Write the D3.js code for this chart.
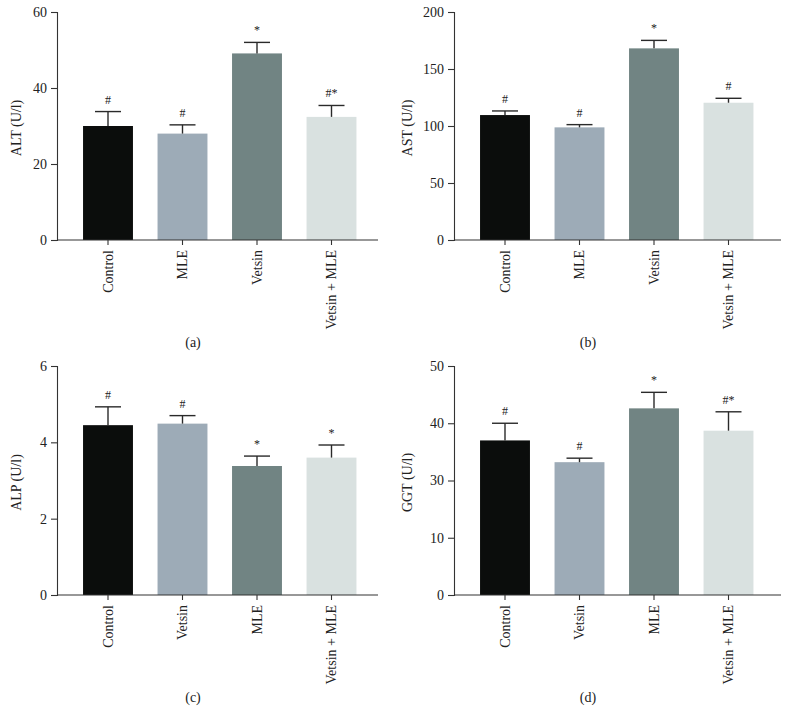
<!DOCTYPE html>
<html><head><meta charset="utf-8">
<script src="https://cdn.jsdelivr.net/npm/d3@7"></script>
<style>body{margin:0;background:#fff;} svg{display:block;}</style>
</head><body>
<script>
// ---- data ----
const abGroups = ["Control", "MLE", "Vetsin", "Vetsin + MLE"];
const cdGroups = ["Control", "Vetsin", "MLE", "Vetsin + MLE"];

const altMeans = [30.0, 28.0, 49.1, 32.4];
const altErrs  = [3.8, 2.3, 2.9, 3.0];
const altMarks = ["#", "#", "*", "#*"];
const altTicks = [0, 20, 40, 60];

const astMeans = [109.6, 98.8, 168.1, 120.4];
const astErrs  = [3.6, 2.4, 7.0, 3.9];
const astMarks = ["#", "#", "*", "#"];
const astTicks = [0, 50, 100, 150, 200];

const alpMeans = [4.45, 4.49, 3.38, 3.60];
const alpErrs  = [0.48, 0.21, 0.26, 0.33];
const alpMarks = ["#", "#", "*", "*"];
const alpTicks = [0, 2, 4, 6];

const ggtMeans = [37.0, 33.2, 42.6, 38.7];
const ggtErrs  = [3.0, 0.7, 2.8, 3.3];
const ggtMarks = ["#", "#", "*", "#*"];
const ggtTicks = [0, 10, 30, 40, 50];

const barColors = ["#0b0d0c", "#9dabb7", "#718483", "#d9e1e0"];

// ---- drawing ----
const W = 788, H = 722;
const svg = d3.select("body").append("svg").attr("width", W).attr("height", H);
const FONT = "'Liberation Serif', 'Times New Roman', serif";

function panel(cfg) {
  const g = svg.append("g");
  const y = d3.scaleLinear().domain(cfg.ticks).range(cfg.ticks.map((t, i) => cfg.bottom - (cfg.bottom - cfg.top) * i / (cfg.ticks.length - 1)));
  const x = d3.scaleBand().domain(cfg.groups)
    .range([cfg.left + 13.75, cfg.left + 13.75 + 298])
    .paddingInner(0.33).paddingOuter(0.165);

  const data = cfg.groups.map((k, i) => ({ k, v: cfg.means[i], e: cfg.errs[i], m: cfg.marks[i], c: barColors[i] }));

  g.selectAll("rect.bar").data(data).enter().append("rect")
    .attr("x", d => x(d.k)).attr("width", x.bandwidth())
    .attr("y", d => y(d.v)).attr("height", d => cfg.bottom - y(d.v))
    .attr("fill", d => d.c);

  const eb = g.selectAll("g.eb").data(data).enter().append("g")
    .attr("stroke", "#2a2a2a").attr("stroke-width", 1.4);
  eb.append("line")
    .attr("x1", d => x(d.k) + x.bandwidth() / 2).attr("x2", d => x(d.k) + x.bandwidth() / 2)
    .attr("y1", d => y(d.v)).attr("y2", d => y(d.v + d.e));
  eb.append("line")
    .attr("x1", d => x(d.k) + x.bandwidth() / 2 - 13).attr("x2", d => x(d.k) + x.bandwidth() / 2 + 13)
    .attr("y1", d => y(d.v + d.e)).attr("y2", d => y(d.v + d.e));

  g.selectAll("text.mark").data(data).enter().append("text")
    .attr("x", d => x(d.k) + x.bandwidth() / 2)
    .attr("y", d => y(d.v + d.e) - 8)
    .attr("text-anchor", "middle")
    .attr("font-family", FONT).attr("font-size", 12).attr("fill", "#222")
    .text(d => d.m);

  const ya = g.append("g").attr("transform", `translate(${cfg.left},0)`)
    .call(d3.axisLeft(y).tickValues(cfg.ticks).tickSize(6).tickPadding(4).tickFormat(d3.format("d")));
  ya.select(".domain").attr("stroke", "#333").attr("stroke-width", 1.1);
  ya.selectAll(".tick line").attr("stroke", "#333").attr("stroke-width", 1.1);
  ya.selectAll("text").attr("font-family", FONT).attr("font-size", 14).attr("fill", "#222");

  const xa = g.append("g").attr("transform", `translate(0,${cfg.bottom})`)
    .call(d3.axisBottom(x).tickSize(5).tickSizeOuter(0));
  xa.select(".domain").remove();
  xa.append("line").attr("x1", cfg.left).attr("x2", cfg.right).attr("y1", 0).attr("y2", 0)
    .attr("stroke", "#333").attr("stroke-width", 1.1);
  xa.selectAll(".tick line").attr("stroke", "#333").attr("stroke-width", 1.1);
  xa.selectAll(".tick text")
    .attr("font-family", FONT).attr("font-size", 14).attr("fill", "#222")
    .attr("transform", "rotate(-90)")
    .attr("text-anchor", "end").attr("dy", "0.35em").attr("x", -10).attr("y", 0);

  g.append("text")
    .attr("transform", `translate(${cfg.labelX},${(cfg.top + cfg.bottom) / 2 + 2}) rotate(-90)`)
    .attr("text-anchor", "middle").attr("dy", "0.35em")
    .attr("font-family", FONT).attr("font-size", 14).attr("fill", "#222")
    .text(cfg.ylabel);

  g.append("text")
    .attr("x", cfg.capX).attr("y", cfg.capY)
    .attr("text-anchor", "middle").attr("dy", "0.35em")
    .attr("font-family", FONT).attr("font-size", 14).attr("fill", "#222")
    .text(cfg.caption);
}

panel({ groups: abGroups, means: altMeans, errs: altErrs, marks: altMarks, ticks: altTicks,
  left: 57, right: 378, top: 12, bottom: 240, labelX: 16, ylabel: "ALT (U/l)",
  caption: "(a)", capX: 193, capY: 342 });
panel({ groups: abGroups, means: astMeans, errs: astErrs, marks: astMarks, ticks: astTicks,
  left: 454, right: 781, top: 12, bottom: 240, labelX: 407, ylabel: "AST (U/l)",
  caption: "(b)", capX: 588, capY: 342 });
panel({ groups: cdGroups, means: alpMeans, errs: alpErrs, marks: alpMarks, ticks: alpTicks,
  left: 57, right: 378, top: 366, bottom: 595, labelX: 16, ylabel: "ALP (U/l)",
  caption: "(c)", capX: 193, capY: 697 });
panel({ groups: cdGroups, means: ggtMeans, errs: ggtErrs, marks: ggtMarks, ticks: ggtTicks,
  left: 454, right: 781, top: 366, bottom: 595, labelX: 407, ylabel: "GGT (U/l)",
  caption: "(d)", capX: 588, capY: 697 });
</script>
</body></html>
